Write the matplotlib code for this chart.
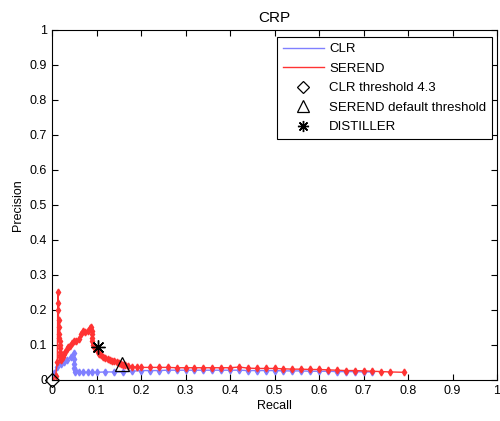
import numpy as np
import matplotlib
matplotlib.use("Agg")
import matplotlib.pyplot as plt
from matplotlib.lines import Line2D

plt.rcParams['font.family'] = ['Liberation Sans', 'DejaVu Sans']

# CLR curve (recall, precision)
clr_recall = [0.0, 0.005, 0.012, 0.02, 0.027, 0.034, 0.042, 0.049, 0.050, 0.050, 0.050,
              0.051, 0.052, 0.06, 0.07, 0.08, 0.09, 0.10, 0.12, 0.14, 0.16, 0.18, 0.20,
              0.22, 0.24, 0.26, 0.28, 0.30, 0.32, 0.34, 0.36, 0.38, 0.40, 0.42, 0.44,
              0.46, 0.48, 0.50, 0.52, 0.54, 0.56, 0.58, 0.60, 0.62, 0.64, 0.66, 0.68,
              0.70, 0.72]
clr_precision = [0.0, 0.02, 0.038, 0.045, 0.05, 0.057, 0.065, 0.076, 0.06, 0.045, 0.035,
                 0.028, 0.024, 0.023, 0.022, 0.022, 0.022, 0.022, 0.023, 0.023, 0.023,
                 0.025, 0.027, 0.027, 0.027, 0.028, 0.028, 0.028, 0.028, 0.028, 0.028,
                 0.028, 0.028, 0.028, 0.027, 0.027, 0.027, 0.027, 0.026, 0.026, 0.026,
                 0.025, 0.025, 0.025, 0.024, 0.024, 0.024, 0.023, 0.023]

# SEREND curve (recall, precision)
serend_recall = [0.0, 0.008, 0.012, 0.013, 0.014, 0.014, 0.015, 0.015, 0.016, 0.016,
                 0.017, 0.017, 0.018, 0.018, 0.019, 0.019, 0.020, 0.021, 0.024, 0.027,
                 0.030, 0.033, 0.036, 0.040, 0.045, 0.050, 0.055, 0.060, 0.065, 0.070,
                 0.075, 0.080, 0.085, 0.088, 0.089, 0.090, 0.090, 0.091, 0.092, 0.094,
                 0.097, 0.100, 0.103, 0.106, 0.110, 0.115, 0.120, 0.125, 0.130, 0.135,
                 0.140, 0.145, 0.150, 0.155, 0.160, 0.165, 0.170, 0.180, 0.190, 0.200,
                 0.22, 0.24, 0.26, 0.28, 0.30, 0.32, 0.34, 0.36, 0.38, 0.40, 0.42, 0.44,
                 0.46, 0.48, 0.50, 0.52, 0.54, 0.56, 0.58, 0.60, 0.62, 0.64, 0.66, 0.68,
                 0.70, 0.72, 0.74, 0.76, 0.79]
serend_precision = [0.0, 0.01, 0.05, 0.25, 0.22, 0.20, 0.17, 0.15, 0.13, 0.12, 0.11,
                    0.10, 0.09, 0.08, 0.07, 0.065, 0.06, 0.058, 0.065, 0.075, 0.08,
                    0.088, 0.093, 0.098, 0.105, 0.11, 0.112, 0.118, 0.13, 0.14, 0.137,
                    0.14, 0.148, 0.152, 0.14, 0.13, 0.12, 0.11, 0.10, 0.095, 0.09, 0.085,
                    0.08, 0.075, 0.07, 0.066, 0.062, 0.06, 0.057, 0.055, 0.053, 0.05,
                    0.048, 0.046, 0.044, 0.042, 0.04, 0.038, 0.037, 0.036, 0.036, 0.036,
                    0.036, 0.035, 0.035, 0.035, 0.035, 0.035, 0.035, 0.035, 0.037, 0.034,
                    0.033, 0.033, 0.033, 0.032, 0.031, 0.031, 0.030, 0.030, 0.029, 0.028,
                    0.027, 0.027, 0.026, 0.025, 0.024, 0.023, 0.022]

# operating points
clr_thresh = (0.0, 0.0)
serend_default = (0.157, 0.045)
distiller = (0.104, 0.095)

ticks = [0, 0.1, 0.2, 0.3, 0.4, 0.5, 0.6, 0.7, 0.8, 0.9, 1]
tick_labels = ["0", "0.1", "0.2", "0.3", "0.4", "0.5", "0.6", "0.7", "0.8", "0.9", "1"]

blue = (0.5, 0.5, 1.0)
red = (1.0, 0.2, 0.2)

fig = plt.figure(figsize=(5.0, 4.21), dpi=100)
ax = fig.add_axes([0.104, 0.0974, 0.89, 0.8314])

ax.plot(clr_recall, clr_precision, color=blue, lw=1, marker='d', ms=3.5,
        mec=blue, mfc=blue)
ax.plot(serend_recall, serend_precision, color=red, lw=1, marker='d', ms=3.5,
        mec=red, mfc=red)
ax.plot(*clr_thresh, marker='D', ms=7, mfc='none', mec='black', mew=0.9,
        ls='none', clip_on=False)
ax.plot(*serend_default, marker='^', ms=10, mfc='none', mec='black', mew=0.9,
        ls='none')
ax.plot(*distiller, marker=(8, 2, 0), ms=10, color='black', mew=1, ls='none')

ax.set_xlim(0, 1)
ax.set_ylim(0, 1)
ax.set_xticks(ticks)
ax.set_xticklabels(tick_labels)
ax.set_yticks(ticks)
ax.set_yticklabels(tick_labels)
ax.tick_params(direction='in', length=4, top=True, right=True, labelsize=9,
               width=0.8)
for s in ax.spines.values():
    s.set_linewidth(0.8)

ax.set_xlabel("Recall", fontsize=9, labelpad=2)
ax.set_ylabel("Precision", fontsize=9, labelpad=4)
ax.set_title("CRP", fontsize=11, pad=6)

handles = [
    Line2D([], [], color=blue, lw=1),
    Line2D([], [], color=red, lw=1),
    Line2D([], [], color='black', marker='D', ms=6, mfc='none', ls='none', mew=0.9),
    Line2D([], [], color='black', marker='^', ms=9, mfc='none', ls='none', mew=0.9),
    Line2D([], [], color='black', marker=(8, 2, 0), ms=8, ls='none', mew=1),
]
labels = ["CLR", "SEREND", "CLR threshold 4.3", "SEREND default threshold", "DISTILLER"]
leg = ax.legend(handles, labels, loc='upper right', bbox_to_anchor=(0.989, 0.98),
                fontsize=9.5, fancybox=False, framealpha=1, edgecolor='black',
                borderpad=0.45, labelspacing=0.55, handlelength=3.1,
                handletextpad=0.4, borderaxespad=0)
leg.get_frame().set_linewidth(0.8)

fig.savefig("out.png", dpi=100)
